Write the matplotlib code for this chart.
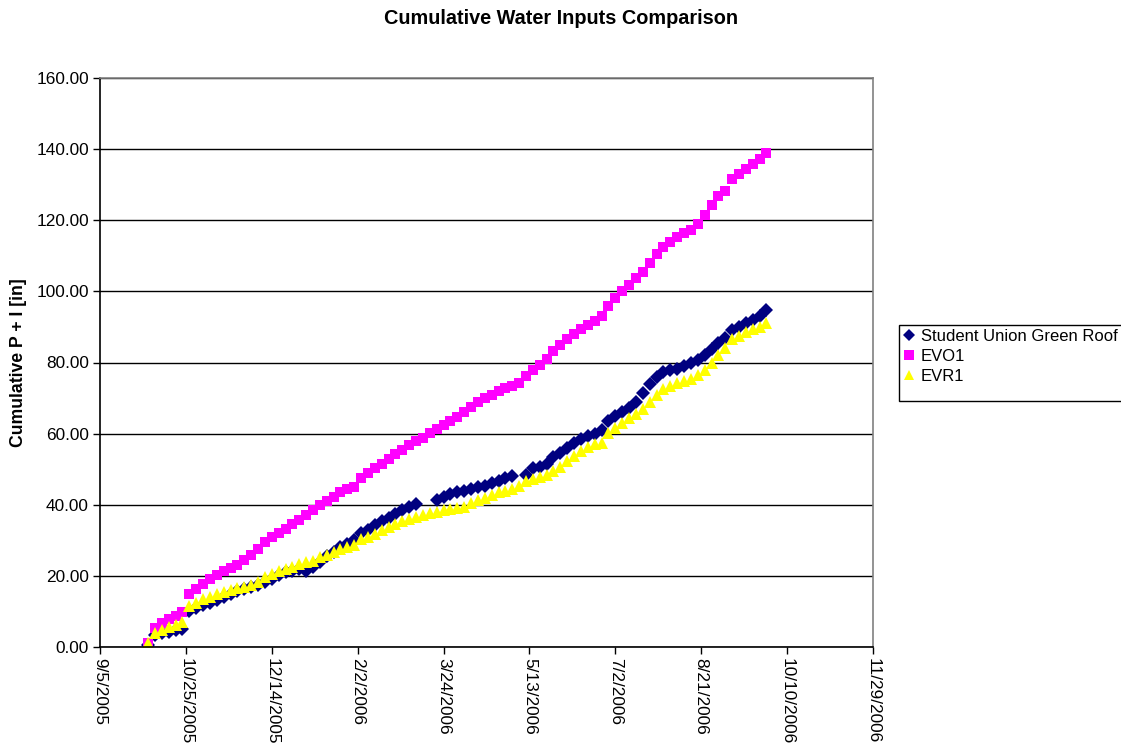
import numpy as np
import pandas as pd
import matplotlib
matplotlib.use('Agg')
from matplotlib import pyplot as plt
from matplotlib.patches import Rectangle

plt.rcParams['font.family'] = ['Liberation Sans', 'DejaVu Sans']

# sample dates (every ~4 days)
dates = ['2005-10-03', '2005-10-07', '2005-10-11', '2005-10-15', '2005-10-19', '2005-10-23',
         '2005-10-27', '2005-10-31', '2005-11-04', '2005-11-08', '2005-11-12', '2005-11-16',
         '2005-11-20', '2005-11-24', '2005-11-28', '2005-12-02', '2005-12-06', '2005-12-10',
         '2005-12-14', '2005-12-18', '2005-12-22', '2005-12-26', '2005-12-30', '2006-01-03',
         '2006-01-07', '2006-01-11', '2006-01-15', '2006-01-19', '2006-01-23', '2006-01-27',
         '2006-01-31', '2006-02-04', '2006-02-08', '2006-02-12', '2006-02-16', '2006-02-20',
         '2006-02-24', '2006-02-28', '2006-03-04', '2006-03-08', '2006-03-12', '2006-03-16',
         '2006-03-20', '2006-03-24', '2006-03-28', '2006-04-01', '2006-04-05', '2006-04-09',
         '2006-04-13', '2006-04-17', '2006-04-21', '2006-04-25', '2006-04-29', '2006-05-03',
         '2006-05-07', '2006-05-11', '2006-05-15', '2006-05-19', '2006-05-23', '2006-05-27',
         '2006-05-31', '2006-06-04', '2006-06-08', '2006-06-12', '2006-06-16', '2006-06-20',
         '2006-06-24', '2006-06-28', '2006-07-02', '2006-07-06', '2006-07-10', '2006-07-14',
         '2006-07-18', '2006-07-22', '2006-07-26', '2006-07-30', '2006-08-03', '2006-08-07',
         '2006-08-11', '2006-08-15', '2006-08-19', '2006-08-23', '2006-08-27', '2006-08-31',
         '2006-09-04', '2006-09-08', '2006-09-12', '2006-09-16', '2006-09-20', '2006-09-24',
         '2006-09-28']

nan = np.nan
student_union = [0.6, 3.5, 4.0, 4.3, 4.8, 5.0, 10.2, 11.0, 11.8, 12.5,
                 13.3, 14.2, 15.0, 15.8, 16.3, 16.8, 17.5, 18.3, 19.2, 20.3,
                 21.0, 21.5, 21.8, 21.4, 22.5, 23.8, 25.5, 26.8, 28.0, 29.0,
                 30.0, 32.0, 33.0, 34.2, 35.3, 36.3, 37.5, 38.5, 39.5, 40.3,
                 nan, nan, 41.3, 42.3, 43.0, 43.5, 44.0, 44.5, 45.0, 45.3,
                 46.0, 46.8, 47.5, 48.0, nan, 48.4, 50.2, 50.5, 51.5, 53.5,
                 54.5, 56.0, 57.3, 58.5, 59.2, 60.0, 61.0, 63.5, 65.0, 66.0,
                 67.3, 69.0, 71.5, 74.0, 76.0, 77.2, 77.8, 78.3, 79.0, 79.8,
                 80.7, 82.0, 83.8, 85.5, 87.0, 89.0, 90.0, 91.0, 92.0, 93.0,
                 94.8]

evo1 = [1.1, 5.3, 6.8, 7.8, 8.8, 9.8, 14.8, 16.2, 17.6, 19.0,
        20.2, 21.3, 22.3, 23.0, 24.6, 25.8, 27.6, 29.4, 30.8, 32.0,
        33.3, 34.5, 35.8, 37.2, 38.4, 39.8, 41.0, 42.3, 43.5, 44.5,
        45.0, 47.5, 48.8, 50.2, 51.5, 53.0, 54.3, 55.5, 56.8, 57.8,
        58.8, 60.2, 61.3, 62.5, 63.6, 64.8, 66.0, 67.5, 68.8, 70.0,
        71.0, 72.0, 72.8, 73.5, 74.3, 76.3, 77.8, 79.3, 81.0, 83.2,
        84.8, 86.5, 88.0, 89.3, 90.5, 91.8, 93.0, 96.0, 98.0, 100.0,
        101.8, 103.8, 105.5, 108.0, 110.5, 112.5, 114.0, 115.3, 116.3, 117.3,
        119.0, 121.5, 124.3, 126.8, 128.3, 131.5, 133.0, 134.3, 135.8, 137.3,
        139.0]

evr1 = [1.1, 4.0, 4.8, 5.5, 6.3, 7.0, 11.5, 12.5, 13.5, 14.2,
        15.0, 15.5, 16.0, 16.5, 17.0, 17.5, 18.2, 19.8, 20.6, 21.4,
        22.0, 22.5, 23.2, 23.8, 24.3, 25.2, 26.0, 26.8, 27.5, 28.0,
        28.7, 30.5, 31.0, 31.8, 32.8, 33.8, 34.7, 35.3, 36.0, 36.6,
        37.2, 37.7, 38.0, 38.5, 38.8, 39.2, 39.5, 40.5, 41.3, 42.0,
        42.8, 43.5, 44.0, 44.5, 45.2, 46.8, 47.3, 47.8, 48.3, 49.5,
        50.6, 52.3, 53.8, 55.0, 56.3, 57.0, 57.5, 60.3, 61.5, 63.0,
        64.5, 65.5, 67.0, 69.0, 71.0, 72.5, 73.5, 74.2, 74.8, 75.5,
        76.5, 78.0, 79.8, 82.0, 84.0, 86.5, 87.5, 88.5, 89.3, 90.0,
        91.0]

tick_dates = ['2005-09-05', '2005-10-25', '2005-12-14', '2006-02-02', '2006-03-24',
              '2006-05-13', '2006-07-02', '2006-08-21', '2006-10-10', '2006-11-29']

x = pd.to_datetime(dates)
ticks = pd.to_datetime(tick_dates)

fig = plt.figure(figsize=(11.21, 7.44), dpi=100)
ax = fig.add_axes([100 / 1121, 1 - 647 / 744, 773 / 1121, 569 / 744])

ax.plot(x, student_union, linestyle='none', marker='D', markersize=7,
        color='#000080', markeredgewidth=0, label='Student Union Green Roof')
ax.plot(x, evo1, linestyle='none', marker='s', markersize=7.5,
        color='#FF00FF', markeredgewidth=0, label='EVO1')
ax.plot(x, evr1, linestyle='none', marker='^', markersize=8.5,
        color='#FFFF00', markeredgewidth=0, label='EVR1')

ax.set_xlim(ticks[0], ticks[-1])
ax.set_ylim(0, 160)
ax.set_xticks(ticks)
ax.set_xticklabels(['%d/%d/%d' % (d.month, d.day, d.year) for d in ticks],
                   rotation=-90, fontsize=12.4, va='top', ha='center')
ax.set_yticks(np.arange(0, 161, 20))
ax.set_yticklabels(['%.2f' % v for v in np.arange(0, 161, 20)], fontsize=12.4)
ax.tick_params(direction='out', length=5, width=1, color='black', pad=3)

ax.yaxis.grid(True, color='black', linewidth=1)
ax.set_axisbelow(True)
for side in ['left', 'bottom']:
    ax.spines[side].set_color('black')
    ax.spines[side].set_linewidth(1.2)
for side in ['top', 'right']:
    ax.spines[side].set_color('#808080')
    ax.spines[side].set_linewidth(1.2)

ax.set_ylabel('Cumulative P + I [in]', fontsize=12.7, fontweight='bold')
ax.yaxis.set_label_coords(-73 / 773, 0.5)
fig.text(561 / 1121, 1 - 18 / 744, 'Cumulative Water Inputs Comparison',
         fontsize=14.3, fontweight='bold', ha='center', va='center')

# legend (box runs off the right edge like the original)
fig.patches.append(Rectangle((899 / 1121, 1 - 401 / 744), 240 / 1121, 76 / 744,
                             transform=fig.transFigure, facecolor='white',
                             edgecolor='black', linewidth=1, zorder=0))
leg = fig.legend(loc='upper left', bbox_to_anchor=(901 / 1121, 1 - 327 / 744),
                 frameon=False, fontsize=12, handlelength=0.8, handletextpad=0.3,
                 labelspacing=0.3, borderaxespad=0, borderpad=0.1)
for h in leg.legend_handles:
    h.set_markersize(6.5)

plt.savefig('out.png', dpi=100)
